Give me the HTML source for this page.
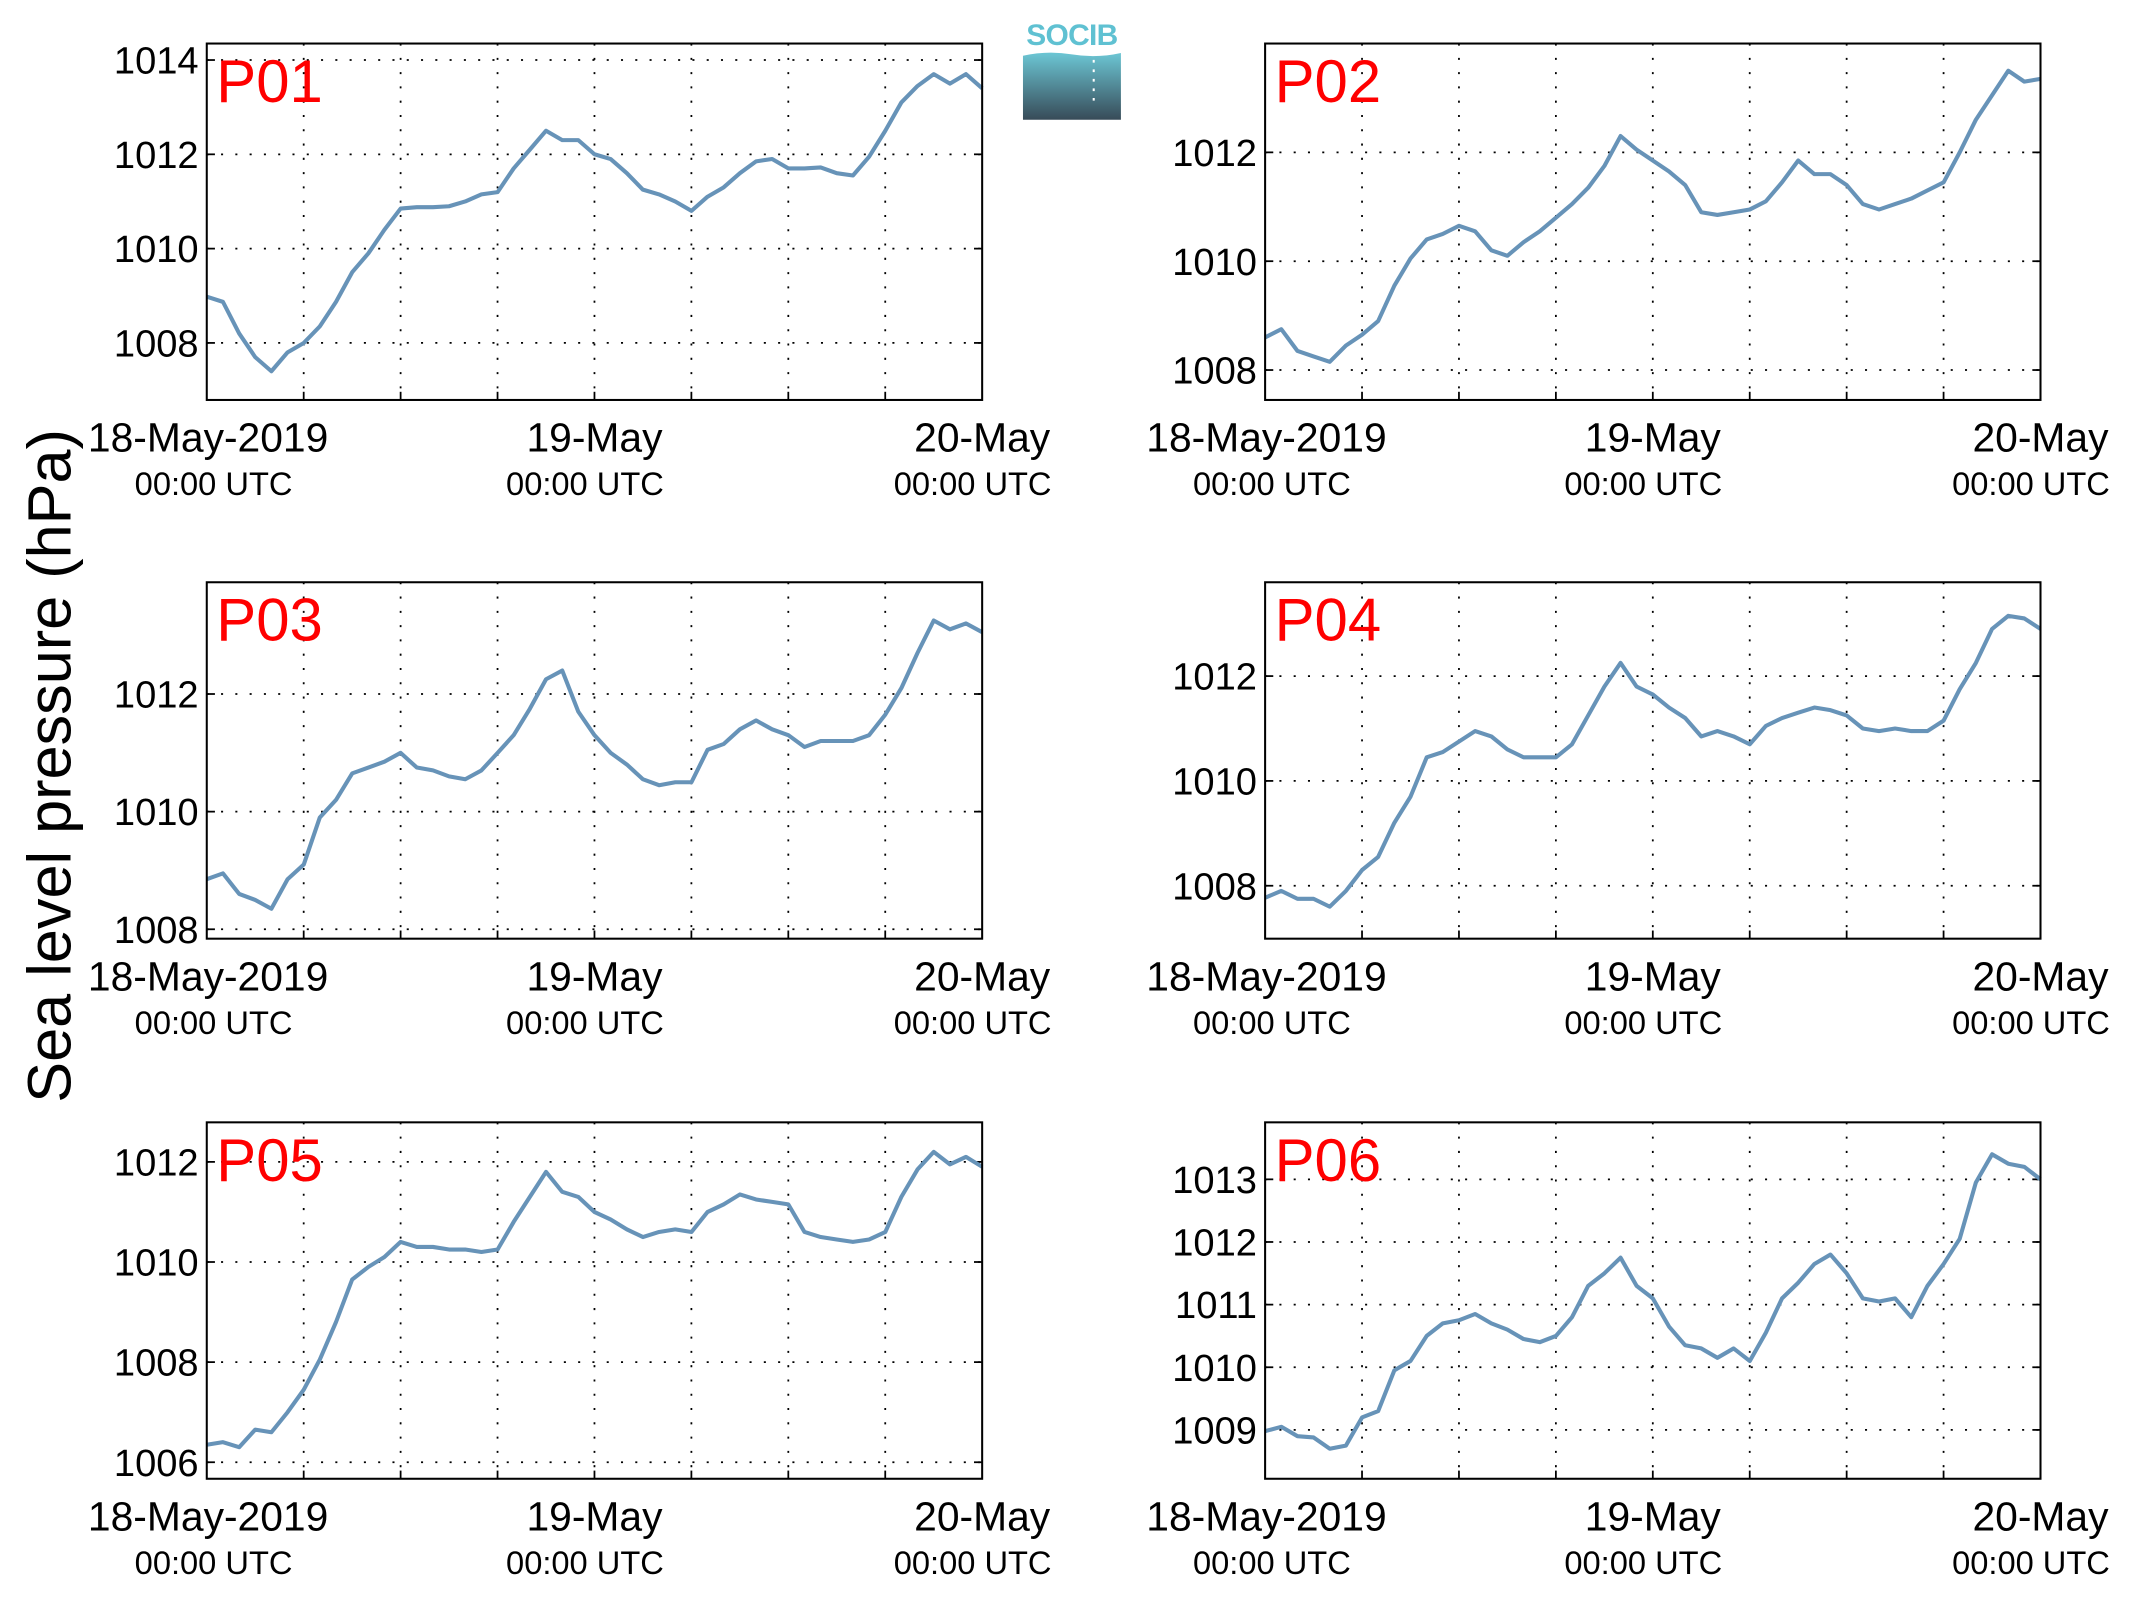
<!DOCTYPE html>
<html><head><meta charset="utf-8"><style>
html,body{margin:0;padding:0;background:#fff;}
svg{display:block;font-family:"Liberation Sans",sans-serif;}
</style></head><body>
<svg id="fig" width="2133" height="1608" viewBox="0 0 1568 1182" preserveAspectRatio="none" xmlns="http://www.w3.org/2000/svg">
<defs>
<linearGradient id="lg" x1="0" y1="0" x2="0" y2="1">
<stop offset="0" stop-color="#6cc6d4"/><stop offset="1" stop-color="#374b58"/>
</linearGradient>
</defs>
<g>
<text x="788" y="33" font-size="22" fill="#5fc1d2" text-anchor="middle" font-weight="bold" letter-spacing="-0.5">SOCIB</text>
<path d="M752 41 Q770 37 788 40 T824 39 L824 88 L752 88 Z" fill="url(#lg)"/>
<line x1="804" y1="44" x2="804" y2="78" stroke="#fff" stroke-width="1.5" stroke-dasharray="2,5"/>
</g>
<text transform="translate(52,563) rotate(-90)" font-size="45" text-anchor="middle">Sea level pressure (hPa)</text>
<g id="panels"></g>
</svg>
<script>
const hours = [0,1,2,3,4,5,6,7,8,9,10,11,12,13,14,15,16,17,18,19,20,21,22,23,24,25,26,27,28,29,30,31,32,33,34,35,36,37,38,39,40,41,42,43,44,45,46,47,48];
const xTickLabels = ["18-May-2019","19-May","20-May"];
const p01 = [1008.98,1008.87,1008.2,1007.7,1007.4,1007.8,1008.0,1008.35,1008.87,1009.5,1009.9,1010.4,1010.85,1010.88,1010.88,1010.9,1011.0,1011.15,1011.2,1011.7,1012.1,1012.5,1012.3,1012.3,1012.0,1011.9,1011.6,1011.25,1011.15,1011.0,1010.8,1011.1,1011.3,1011.6,1011.85,1011.9,1011.7,1011.7,1011.72,1011.6,1011.55,1011.95,1012.5,1013.1,1013.45,1013.7,1013.5,1013.7,1013.4];
const p02 = [1008.6,1008.75,1008.35,1008.25,1008.15,1008.45,1008.65,1008.9,1009.55,1010.05,1010.4,1010.5,1010.65,1010.55,1010.2,1010.1,1010.35,1010.55,1010.8,1011.05,1011.35,1011.75,1012.3,1012.05,1011.85,1011.65,1011.4,1010.9,1010.85,1010.9,1010.95,1011.1,1011.45,1011.85,1011.6,1011.6,1011.4,1011.05,1010.95,1011.05,1011.15,1011.3,1011.45,1012.0,1012.6,1013.05,1013.5,1013.3,1013.35];
const p03 = [1008.85,1008.95,1008.6,1008.5,1008.35,1008.85,1009.1,1009.9,1010.2,1010.65,1010.75,1010.85,1011.0,1010.75,1010.7,1010.6,1010.55,1010.7,1011.0,1011.3,1011.75,1012.25,1012.4,1011.7,1011.3,1011.0,1010.8,1010.55,1010.45,1010.5,1010.5,1011.05,1011.15,1011.4,1011.55,1011.4,1011.3,1011.1,1011.2,1011.2,1011.2,1011.3,1011.65,1012.1,1012.7,1013.25,1013.1,1013.2,1013.05];
const p04 = [1007.77,1007.9,1007.75,1007.75,1007.6,1007.9,1008.3,1008.55,1009.2,1009.7,1010.45,1010.55,1010.75,1010.95,1010.85,1010.6,1010.45,1010.45,1010.45,1010.7,1011.25,1011.8,1012.25,1011.8,1011.65,1011.4,1011.2,1010.85,1010.95,1010.85,1010.7,1011.05,1011.2,1011.3,1011.4,1011.35,1011.25,1011.0,1010.95,1011.0,1010.95,1010.95,1011.15,1011.75,1012.25,1012.9,1013.15,1013.1,1012.9];
const p05 = [1006.35,1006.4,1006.3,1006.65,1006.6,1007.0,1007.45,1008.05,1008.8,1009.65,1009.9,1010.1,1010.4,1010.3,1010.3,1010.25,1010.25,1010.2,1010.25,1010.8,1011.3,1011.8,1011.4,1011.3,1011.0,1010.85,1010.65,1010.5,1010.6,1010.65,1010.6,1011.0,1011.15,1011.35,1011.25,1011.2,1011.15,1010.6,1010.5,1010.45,1010.4,1010.45,1010.6,1011.3,1011.85,1012.2,1011.95,1012.1,1011.9];
const p06 = [1008.98,1009.05,1008.9,1008.88,1008.7,1008.75,1009.2,1009.3,1009.95,1010.1,1010.5,1010.7,1010.75,1010.85,1010.7,1010.6,1010.45,1010.4,1010.5,1010.8,1011.3,1011.5,1011.75,1011.3,1011.1,1010.65,1010.35,1010.3,1010.15,1010.3,1010.1,1010.55,1011.1,1011.35,1011.65,1011.8,1011.5,1011.1,1011.05,1011.1,1010.8,1011.3,1011.65,1012.05,1012.95,1013.4,1013.25,1013.2,1013.0];
const p01Ticks = [1008,1010,1012,1014];
const p02Ticks = [1008,1010,1012];
const p03Ticks = [1008,1010,1012];
const p04Ticks = [1008,1010,1012];
const p05Ticks = [1006,1008,1010,1012];
const p06Ticks = [1009,1010,1011,1012,1013];

const panels = [
 {name:"P01", data:p01, ticks:p01Ticks, x0:152, y0:32, ymin:1006.79, ymax:1014.35},
 {name:"P02", data:p02, ticks:p02Ticks, x0:930, y0:32, ymin:1007.45, ymax:1014.0},
 {name:"P03", data:p03, ticks:p03Ticks, x0:152, y0:428, ymin:1007.84, ymax:1013.9},
 {name:"P04", data:p04, ticks:p04Ticks, x0:930, y0:428, ymin:1006.99, ymax:1013.79},
 {name:"P05", data:p05, ticks:p05Ticks, x0:152, y0:825, ymin:1005.67, ymax:1012.79},
 {name:"P06", data:p06, ticks:p06Ticks, x0:930, y0:825, ymin:1008.22, ymax:1013.91}
];
const W=570,H=262;
const NS="http://www.w3.org/2000/svg";
const root=document.getElementById('panels');
function mk(tag,attrs,parent){const e=document.createElementNS(NS,tag);for(const k in attrs)e.setAttribute(k,attrs[k]);parent.appendChild(e);return e;}
panels.forEach(p=>{
  const g=mk('g',{},root);
  
  
  const xs=h=>p.x0+h/48*W;
  const ys=v=>p.y0+H-(v-p.ymin)/(p.ymax-p.ymin)*H;
  for(let i=1;i<8;i++){
    const x=xs(i*6);
    const l=mk('line',{x1:x,y1:p.y0,x2:x,y2:p.y0+H,stroke:'#000','stroke-width':1.3,'stroke-dasharray':'1.5,9'},g);
    
    
    const t=mk('line',{x1:x,y1:p.y0+H,x2:x,y2:p.y0+H-6,stroke:'#000','stroke-width':1.3},g);
    
    
  }
  p.ticks.forEach(v=>{
    const y=ys(v);
    const l=mk('line',{x1:p.x0,y1:y,x2:p.x0+W,y2:y,stroke:'#000','stroke-width':1.3,'stroke-dasharray':'1.5,9'},g);
    
    
    mk('line',{x1:p.x0,y1:y,x2:p.x0+6,y2:y,stroke:'#000','stroke-width':1.3},g);
    mk('line',{x1:p.x0+W,y1:y,x2:p.x0+W-6,y2:y,stroke:'#000','stroke-width':1.3},g);
    const t=mk('text',{x:p.x0-6,y:y+10,'font-size':28,'text-anchor':'end'},g);
    t.textContent=v;
    
    
  });
  const ln=mk('path',{d:hours.map((h,i)=>(i?'L':'M')+xs(h).toFixed(1)+' '+ys(p.data[i]).toFixed(1)).join(' '),fill:'none',stroke:'#6793b8','stroke-width':3,'stroke-linejoin':'round'},g);
  
  
  const fr=mk('rect',{x:p.x0,y:p.y0,width:W,height:H,fill:'none',stroke:'#000','stroke-width':1.5},g);
  
  
  const lab=mk('text',{x:p.x0+7,y:p.y0+43,'font-size':44,fill:'#ff0000'},g);
  lab.textContent=p.name;
  
  
  [0,24,48].forEach((h,i)=>{
    const x=xs(h);
    const t1=mk('text',{x:x+(i==0?1:0),y:p.y0+H+38,'font-size':30,'text-anchor':'middle'},g);
    t1.textContent=xTickLabels[i];
    
    
    const t2=mk('text',{x:x+(i==0?5:-7),y:p.y0+H+70,'font-size':24,'text-anchor':'middle'},g);
    t2.textContent="00:00 UTC";
    
    
  });
});
</script>
</body></html>
